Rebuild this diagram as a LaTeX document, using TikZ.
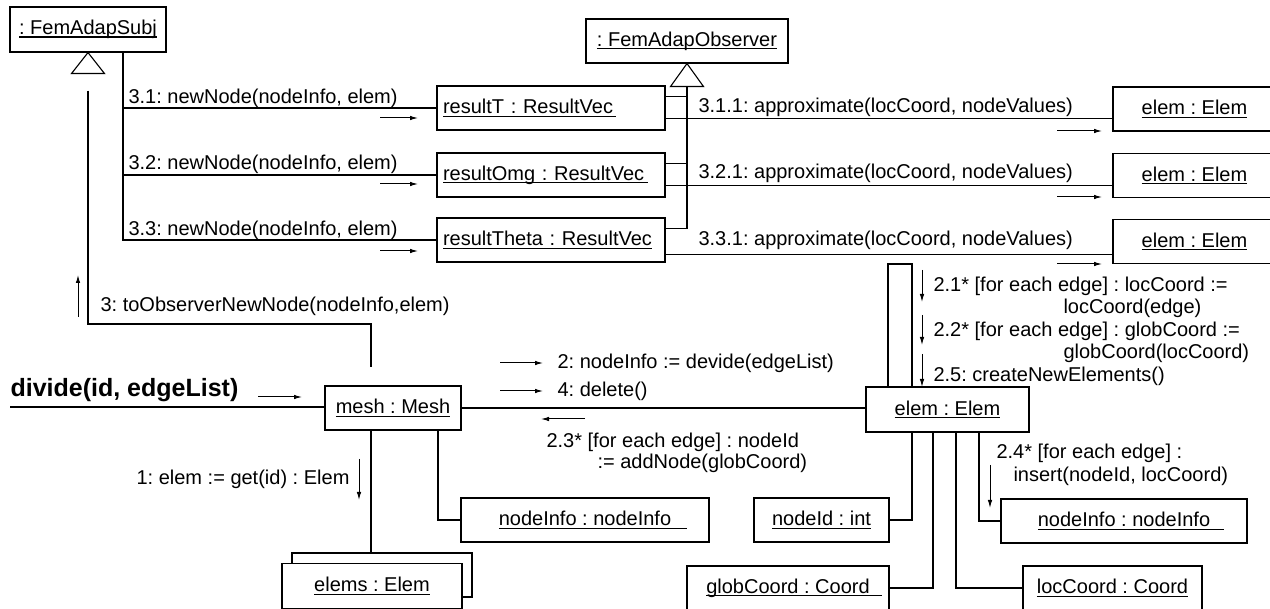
\documentclass[tikz,border=0pt]{standalone}
\usepackage{fontspec}
\setmainfont{Liberation Sans}
\usetikzlibrary{arrows.meta,calc}
\frenchspacing
\newcommand\ulx[2][0pt]{\setbox0=\hbox{#2}\leavevmode\rlap{\vrule height -1.8pt depth 3pt width \dimexpr\wd0+#1\relax}\box0\hspace{#1}}
\begin{document}
\begin{tikzpicture}[x=1pt,y=-1pt,line width=1.1pt,
  every node/.style={font=\fontsize{20}{23}\selectfont},
  obj/.style={draw, line width=1.1pt, minimum height=44, inner sep=0pt},
  rv/.style={obj, text width=216, align=left, inner xsep=6pt, minimum width=228},
  lbl/.style={anchor=west, inner sep=0pt},
  lblr/.style={anchor=east, inner sep=0pt},
  msg/.style={-{Latex[length=8pt,width=4.5pt]}, line width=1pt}]
\useasboundingbox (0,0) rectangle (1270,609);

% objects
\node[obj, minimum width=156, minimum height=45] (subj) at (88,29.5) {\ulx{: FemAdapSubj}};
\node[obj, minimum width=202] (obs) at (687,41) {\ulx{: FemAdapObserver}};
\node[rv] (rT) at (551,108) {\ulx[3pt]{resultT : ResultVec}};
\node[rv] (rO) at (551,175) {\ulx[4pt]{resultOmg : ResultVec}};
\node[rv] (rTh) at (551,240) {\ulx{resultTheta : ResultVec}};
\node[obj, minimum width=163] (e1) at (1194.5,109) {\ulx{elem : Elem}};
\node[obj, minimum width=163] (e2) at (1194.5,175.5) {\ulx{elem : Elem}};
\node[obj, minimum width=163] (e3) at (1194.5,241.5) {\ulx{elem : Elem}};
\node[obj, minimum width=136] (mesh) at (393,408) {\ulx{mesh : Mesh}};
\node[obj, minimum width=163, minimum height=45] (elem) at (947.5,409.5) {\ulx{elem : Elem}};
\node[obj, minimum width=248] (niL) at (585,520) {\ulx[16pt]{nodeInfo : nodeInfo}};
\node[obj, minimum width=135] (nid) at (821.5,520) {\ulx{nodeId : int}};
\node[obj, minimum width=246] (niR) at (1124,521) {\ulx[14pt]{nodeInfo : nodeInfo}};
\node[obj, minimum width=202] (gc) at (788,588) {\ulx[12pt]{globCoord : Coord}};
\node[obj, minimum width=179] (lc) at (1112.5,588) {\ulx{locCoord : Coord}};
\node[obj, minimum width=180] (eback) at (382,575) {};
\node[obj, minimum width=180, minimum height=45, fill=white] (elems) at (372,586) {\ulx{elems : Elem}};

% generalization triangles
\draw[fill=white] (subj.south) -- ++(-16.5,21) -- ++(33,0) -- cycle;
\coordinate (subjT) at ($(subj.south)+(0,21)$);
\draw[fill=white] (obs.south) -- ++(-16.5,23) -- ++(33,0) -- cycle;
\coordinate (obsT) at ($(obs.south)+(0,23)$);

% subject -> result vectors
\coordinate (sx) at (123,0);
\draw (sx |- subj.south) |- (rTh.west);
\draw (sx |- rT.west) -- (rT.west);
\draw (sx |- rO.west) -- (rO.west);

% result vectors -> observer
\coordinate (s1) at ($(rT.north east)+(0,11)$);
\coordinate (s2) at ($(rO.north east)+(0,11)$);
\coordinate (s3) at ($(rTh.north east)+(0,11)$);
\draw (obsT) |- (s3);
\draw (s1) -- (s1 -| obsT);
\draw (s2) -- (s2 -| obsT);

% result vectors -> elems
\coordinate (a1) at ($(rT.south east)+(0,-12)$);
\coordinate (a2) at ($(rO.south east)+(0,-12)$);
\coordinate (a3) at ($(rTh.south east)+(0,-8)$);
\draw (a1) -- (a1 -| e1.west);
\draw (a2) -- (a2 -| e2.west);
\draw (a3) -- (a3 -| e3.west);

% mesh -> subject
\coordinate (mk) at (371,324);
\draw[shorten <=17pt, shorten >=18pt] (subjT) |- (mk) -- (mk |- mesh.north);

% mesh links
\coordinate (dstart) at (10,407);
\draw (dstart) -- (dstart -| mesh.west);
\draw (mesh.east) -- (mesh.east -| elem.west);
\coordinate (mx) at (371,0);
\draw (mx |- mesh.south) -- (mx |- eback.north);
\coordinate (nx) at (438,0);
\draw (nx |- mesh.south) |- (niL.west);

% elem links
\coordinate (lx1) at (888,0);
\coordinate (lx2) at (912,0);
\coordinate (lx3) at (933,0);
\coordinate (lx4) at (956,0);
\coordinate (lx5) at (979,0);
\draw (lx1 |- elem.north) |- (lx2 |- e3.south) -- (lx2 |- elem.north);
\draw (lx2 |- elem.south) |- (nid.east);
\draw (lx3 |- elem.south) |- (gc.east);
\draw (lx4 |- elem.south) |- (lc.west);
\draw (lx5 |- elem.south) |- (niR.west);

% message arrows
\draw[msg] (380,118) -- (418,118);
\draw[msg] (380,184) -- (418,184);
\draw[msg] (380,251) -- (418,251);
\draw[msg] (1057,131) -- (1102,131);
\draw[msg] (1057,197) -- (1102,197);
\draw[msg] (1057,264) -- (1102,264);
\draw[msg] (78,317) -- (78,275);
\draw[msg] (258,397) -- (302,397);
\draw[msg] (500,363) -- (543,363);
\draw[msg] (500,391) -- (543,391);
\draw[msg] (585,419) -- (541,419);
\draw[msg] (359,459) -- (359,500);
\draw[msg] (922,270) -- (922,302);
\draw[msg] (922,315) -- (922,345);
\draw[msg] (922,354) -- (922,387);
\draw[msg] (990,465) -- (990,508);

% labels
\node[lbl] (l31) at (128,98) {3.1: newNode(nodeInfo, elem)};
\node[lbl] (l32) at (128,164) {3.2: newNode(nodeInfo, elem)};
\node[lbl] (l33) at (128,230) {3.3: newNode(nodeInfo, elem)};
\node[lbl] (l311) at (698,107) {3.1.1: approximate(locCoord, nodeValues)};
\node[lbl] (l321) at (698,173) {3.2.1: approximate(locCoord, nodeValues)};
\node[lbl] (l331) at (698,240) {3.3.1: approximate(locCoord, nodeValues)};
\node[lbl] (l3) at (100,306) {3: toObserverNewNode(nodeInfo,elem)};
\node[lbl, font=\fontsize{25}{28}\selectfont\bfseries] (ldiv) at (10,390) {divide(id, edgeList)};
\node[lbl] (l2) at (557,363) {2: nodeInfo := devide(edgeList)};
\node[lbl] (l4) at (557,391) {4: delete()};
\node[lbl] (l23a) at (546,442) {2.3* [for each edge] : nodeId};
\node[lbl] (l23b) at (597,463) {:= addNode(globCoord)};
\node[lblr] (l1) at (350,479) {1: elem := get(id) : Elem};
\node[lbl] (l21a) at (933,286) {2.1* [for each edge] : locCoord :=};
\node[lbl] (l21b) at (1063,308) {locCoord(edge)};
\node[lbl] (l22a) at (933,331) {2.2* [for each edge] : globCoord :=};
\node[lbl] (l22b) at (1063,353) {globCoord(locCoord)};
\node[lbl] (l25) at (933,376) {2.5: createNewElements()};
\node[lbl] (l24a) at (996,453) {2.4* [for each edge] :};
\node[lbl] (l24b) at (1013,476) {insert(nodeId, locCoord)};
\end{tikzpicture}
\end{document}
